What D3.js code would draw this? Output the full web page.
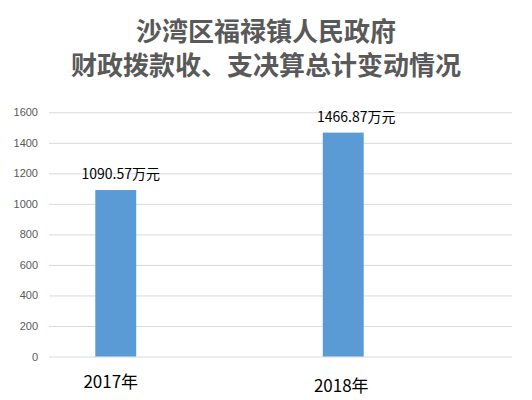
<!DOCTYPE html>
<html><head><meta charset="utf-8">
<script src="https://cdn.jsdelivr.net/npm/d3@7"></script>
<style>body{margin:0;background:#fff;}svg{display:block;}</style>
</head><body><svg id="c" width="532" height="400"></svg>
<script>
const titleLines = ["沙湾区福禄镇人民政府", "财政拨款收、支决算总计变动情况"];
const categories = ["2017年", "2018年"];
const values = [1090.57, 1466.87];
const valueLabels = ["1090.57万元", "1466.87万元"];
const yTicks = [0, 200, 400, 600, 800, 1000, 1200, 1400, 1600];

const svg = d3.select("#c");
const y = d3.scaleLinear().domain([0, 1600]).range([356.5, 112.3]);
const x = d3.scaleBand().domain(categories).range([2, 457]).paddingInner(0.82).paddingOuter(0.41);

const font = "'Noto Sans CJK SC','Microsoft YaHei',sans-serif";

svg.append("g").selectAll("text").data(titleLines).join("text")
  .attr("x", 266).attr("y", (d, i) => 41 + i * 34)
  .attr("text-anchor", "middle").attr("font-family", font)
  .attr("font-size", 26).attr("fill", "#595959").attr("font-weight", "bold")
  .text(d => d);

const axis = d3.axisLeft(y).tickValues(yTicks).tickFormat(d3.format("d")).tickSize(-463).tickPadding(11);
const g = svg.append("g").attr("transform", "translate(49,0)").call(axis);
g.select(".domain").remove();
g.selectAll(".tick line").attr("stroke", "#d9d9d9").attr("stroke-width", 1);
g.selectAll(".tick text").attr("font-family", "'Liberation Sans',Arial,sans-serif")
  .attr("font-size", 11).attr("fill", "#595959");

svg.append("g").selectAll("rect").data(values).join("rect")
  .attr("x", (d, i) => x(categories[i]))
  .attr("width", x.bandwidth())
  .attr("y", d => y(d))
  .attr("height", d => y(0) - y(d))
  .attr("fill", "#5b9bd5");

svg.append("g").selectAll("text").data(values).join("text")
  .attr("x", (d, i) => x(categories[i]) + x.bandwidth() / 2 + 5 + i * 8)
  .attr("y", d => y(d) - 11)
  .attr("text-anchor", "middle").attr("font-family", font)
  .attr("font-size", 14).attr("fill", "#000")
  .text((d, i) => valueLabels[i]);

svg.append("g").selectAll("text").data(categories).join("text")
  .attr("x", (d, i) => x(d) + x.bandwidth() / 2 - 5 + i * 3)
  .attr("y", (d, i) => 388 + i * 4)
  .attr("text-anchor", "middle").attr("font-family", font)
  .attr("font-size", 17).attr("fill", "#000")
  .text(d => d);
</script></body></html>
